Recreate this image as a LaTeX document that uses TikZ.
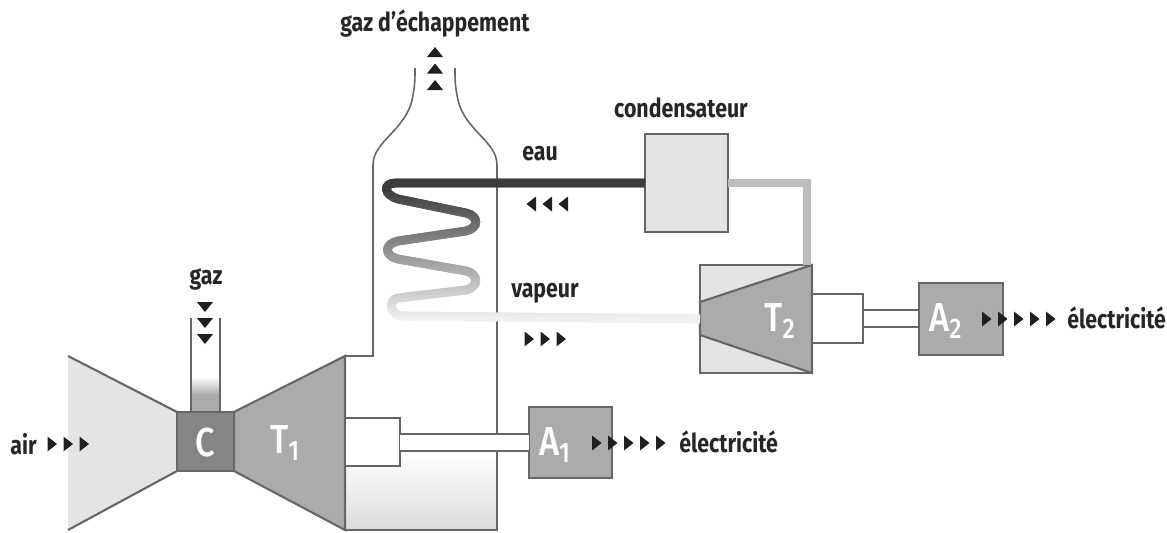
\documentclass[tikz,border=0pt]{standalone}
\usepackage{fontspec}
\setmainfont[FakeStretch=0.82,BoldFont={Fira Sans Bold}]{Fira Sans}
\newfontfamily\labelfont[FakeStretch=0.85]{Fira Sans Medium}
\usetikzlibrary{calc}
\definecolor{wall}{HTML}{666666}
\definecolor{lightfill}{HTML}{E4E4E4}
\definecolor{midfill}{HTML}{ABABAB}
\definecolor{darkfill}{HTML}{858585}
\definecolor{hotpipe}{HTML}{F0F0F0}
\definecolor{coldpipe}{HTML}{3C3C3C}
\definecolor{returnpipe}{HTML}{BDBDBD}
\def\px{.02cm}
\tikzset{
  wallline/.style={draw=wall,line width=1.2pt},
  thinwall/.style={draw=wall,line width=.9pt},
  boxnode/.style={wallline,inner sep=0pt,outer sep=0pt},
  caption/.style={inner sep=0pt,font=\fontsize{14.8}{16}\selectfont\bfseries,text=black!85},
  whitelab/.style={inner sep=0pt,text=white,font=\fontsize{23}{25}\selectfont\labelfont},
  flow/.style={fill=black!88,draw=none},
}
\newcommand{\rarrows}[3]{\foreach \i in {1,...,#3}{\fill[flow] ({#1+(\i-1)*16},#2-7.5) -- ++(9.5,7.5) -- ++(-9.5,7.5) -- cycle;}}
\newcommand{\larrows}[3]{\foreach \i in {1,...,#3}{\fill[flow] ({#1+(\i-1)*16},#2-7.5) -- ++(-9.5,7.5) -- ++(9.5,7.5) -- cycle;}}
\newcommand{\darrows}[3]{\foreach \i in {1,...,#3}{\fill[flow] (#1-8,{#2+(\i-1)*16-5}) -- ++(16,0) -- ++(-8,10) -- cycle;}}
\newcommand{\uarrows}[3]{\foreach \i in {1,...,#3}{\fill[flow] (#1-8,{#2+(\i-1)*16.5+5}) -- ++(16,0) -- ++(-8,-10) -- cycle;}}
\newcommand{\coilpath}{(cond.west) -- (396,183) .. controls (382,183) and (384,195) .. (398,199) -- (466,213)
  .. controls (479,216) and (479,228) .. (466,231) -- (398,241)
  .. controls (384,244) and (384,256) .. (398,259) -- (466,271)
  .. controls (479,274) and (479,287) .. (466,290) -- (398,298)
  .. controls (388,300) and (389,316) .. (404,316) -- (T2.west)}
\begin{document}
\begin{tikzpicture}[x=.02cm,y=-.02cm,line join=miter]
\useasboundingbox (0,0) rectangle (1167,532);
% lower part of the stack
\shade[top color=white,bottom color=black!14] (345,452) rectangle (497,530);
% inlet and turbine T1
\fill[lightfill] (68,356) -- (177,412) -- (177,471) -- (68,530) -- cycle;
\draw[wallline] (68,356) -- (177,412) (177,471) -- (68,530);
\fill[midfill] (191,395) rectangle (220,412);
\shade[top color=white,bottom color=midfill] (191,377) rectangle (220,395);
\draw[wallline] (191,318) -- (191,412) (220,318) -- (220,412);
\filldraw[fill=midfill,wallline] (234,412) -- (345,356) -- (345,530) -- (234,471) -- cycle;
\node[boxnode,fill=darkfill,minimum width=57*\px,minimum height=59*\px] (C) at (205.5,441.5) {};
\node[whitelab] (labC) at (205,443) {C};
\node[whitelab] (labT1) at (285,443) {T\textsubscript{1}};
% stack walls
\draw[thinwall] (345,356) -- (373,356) -- (373,165) .. controls (373,140) and (408,130) .. (413,95) .. controls (415,85) and (415,78) .. (415,68);
\draw[thinwall] (455,68) .. controls (455,78) and (455,85) .. (457,95) .. controls (462,130) and (497,140) .. (497,165) -- (497,530) -- (345,530);
% shaft and coupling T1 - A1
\node[boxnode,fill=midfill,minimum width=83*\px,minimum height=71*\px] (A1) at (570.5,442.5) {};
\node[boxnode,fill=white,minimum width=55*\px,minimum height=48*\px] (B1) at (372.5,442) {};
\fill[white] (B1.east |- 0,434) rectangle (A1.west |- 0,451);
\draw[wallline] (B1.east |- 0,434) -- (A1.west |- 0,434) (B1.east |- 0,451) -- (A1.west |- 0,451);
\node[whitelab] (labA1) at (555,445) {A\textsubscript{1}};
% T2 group
\node[boxnode,fill=lightfill,minimum width=112*\px,minimum height=108*\px] (T2) at (756,319) {};
\filldraw[fill=midfill,wallline] (T2.west |- 0,302) -- (T2.north east) -- (T2.south east) -- (T2.west |- 0,335) -- cycle;
\node[boxnode,minimum width=112*\px,minimum height=108*\px] (T2frame) at (756,319) {};
\node[whitelab] (labT2) at (780,321) {T\textsubscript{2}};
\node[boxnode,fill=white,minimum width=51*\px,minimum height=49*\px] (B2) at (837.5,318.5) {};
\node[boxnode,fill=midfill,minimum width=84*\px,minimum height=72*\px] (A2) at (961,319) {};
\draw[wallline] (B2.east |- 0,310) -- (A2.west |- 0,310) (B2.east |- 0,327) -- (A2.west |- 0,327);
\node[whitelab] (labA2) at (946,321) {A\textsubscript{2}};
% condenser and pipes
\node[boxnode,fill=lightfill,minimum width=83*\px,minimum height=98*\px] (cond) at (686.5,183) {};
\coordinate (bend) at (807,183);
\coordinate (t2in) at (807,265);
\draw[returnpipe,line width=5pt] (cond.east) -- (bend) -- (t2in);
% water / steam coil: colour depends on the height
\foreach \yy in {176,178,...,324}{
  \pgfmathsetmacro{\pct}{max(0,min(100,(\yy-190)/(318-190)*100))}
  \colorlet{pipecol}{hotpipe!\pct!coldpipe}
  \begin{scope}
    \clip (300,\yy-0.4) rectangle (760,\yy+2.4);
    \draw[pipecol,line width=5pt] \coilpath;
  \end{scope}
}
% flow marks
\rarrows{47.5}{444}{3}
\darrows{205}{307}{3}
\uarrows{435}{52}{3}
\larrows{536}{204}{3}
\rarrows{524.5}{339}{3}
\rarrows{592}{443}{5}
\rarrows{982}{319}{5}
% captions
\node[caption,anchor=west] (air) at (10,444) {air};
\node[caption] (gaz) at (206,279) {gaz};
\node[caption] (exh) at (435,24) {gaz d'échappement};
\node[caption] (cap) at (681,108) {condensateur};
\node[caption] (eau) at (540,154) {eau};
\node[caption] (vap) at (545,293) {vapeur};
\node[caption,anchor=west] (el1) at (679,442) {électricité};
\node[caption,anchor=west] (el2) at (1067,318) {électricité};
\end{tikzpicture}
\end{document}
